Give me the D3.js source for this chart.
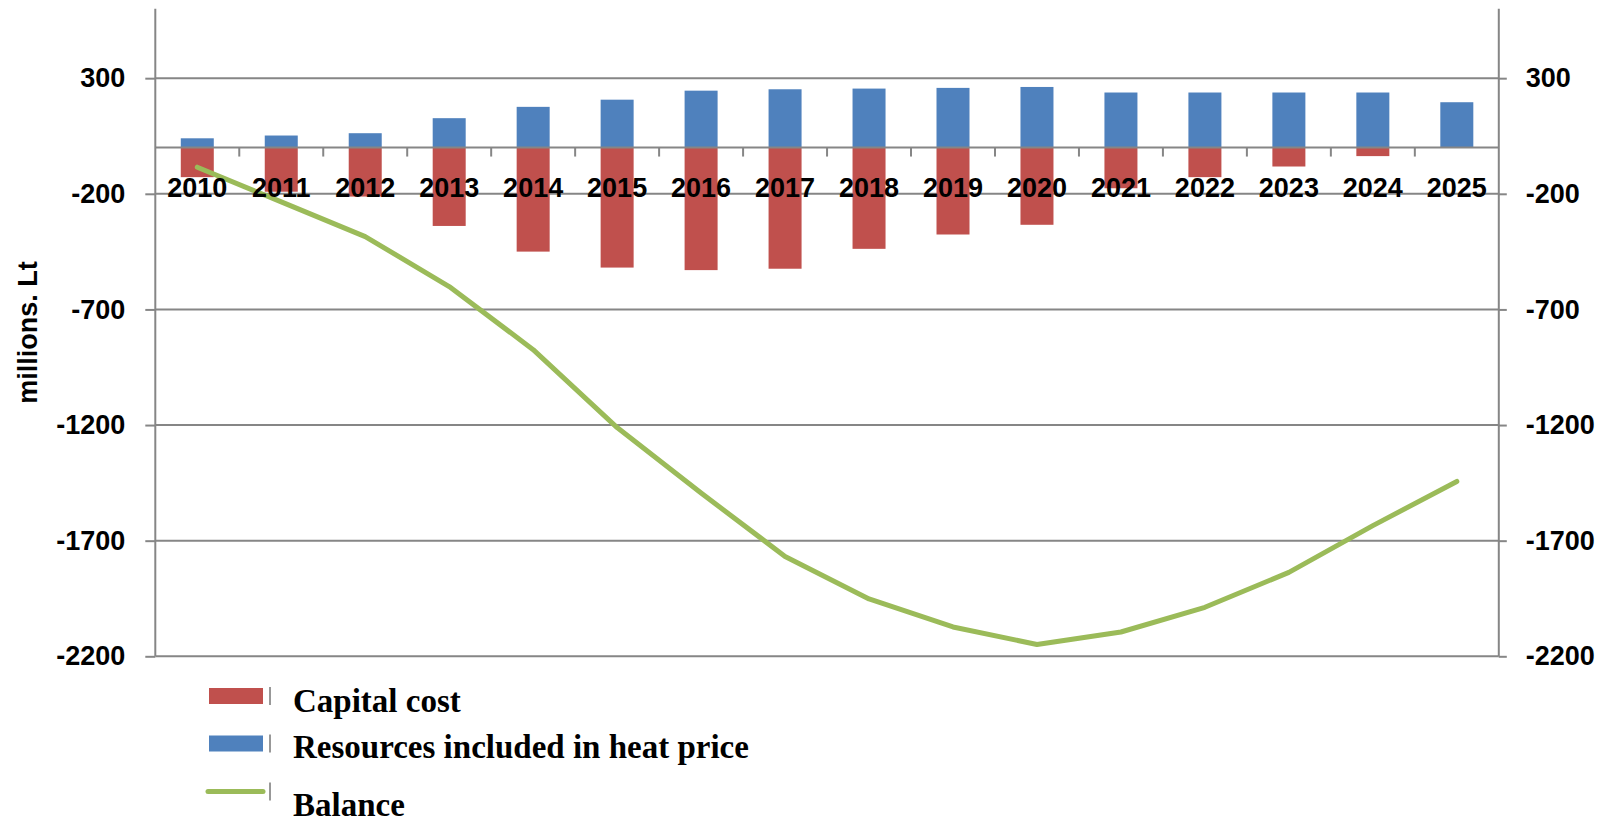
<!DOCTYPE html>
<html>
<head>
<meta charset="utf-8">
<script src="https://cdn.jsdelivr.net/npm/d3@7"></script>
<style>
  html, body { margin: 0; padding: 0; background: #ffffff; }
  svg { display: block; }
</style>
</head>
<body>
<svg id="chart" width="1602" height="824"></svg>
<script>
// ---- data ----
const years = ["2010","2011","2012","2013","2014","2015","2016","2017","2018","2019","2020","2021","2022","2023","2024","2025"];
const resources = [40, 52, 62, 127, 176, 207, 246, 252, 255, 258, 262, 238, 238, 238, 238, 196];
const capital = [-128, -191, -212, -339, -450, -519, -530, -524, -438, -376, -334, -176, -128, -82, -37, 0];
const balance = [-85, -235, -385, -601, -874, -1211, -1494, -1768, -1952, -2073, -2149, -2095, -1988, -1837, -1635, -1444];
const yTicks = [300, -200, -700, -1200, -1700, -2200];
const seriesNames = ["Capital cost", "Resources included in heat price", "Balance"];
const colors = { capital: "#C0504D", resources: "#4F81BD", balance: "#9BBB59" };

// ---- layout ----
const plotLeft = 155.3, plotRight = 1498.8;
const plotTop = 8.8, plotBottom = 656.3;
const axisColor = "#868686";
const sansFont = "'Liberation Sans', Arial, sans-serif";
const serifFont = "'Liberation Serif', 'Times New Roman', serif";

const svg = d3.select("#chart");

const x = d3.scaleBand().domain(years).range([plotLeft, plotRight]).paddingInner(0.607).paddingOuter(0.3035);
const y = d3.scaleLinear().domain([-2200, 600]).range([plotBottom, plotTop]);

// gridlines
svg.append("g").selectAll("line").data(yTicks).join("line")
  .attr("x1", plotLeft).attr("x2", plotRight)
  .attr("y1", d => y(d)).attr("y2", d => y(d))
  .attr("stroke", axisColor).attr("stroke-width", 2);

// left axis
const fmt = d => String(d);
const leftAxis = d3.axisLeft(y).tickValues(yTicks).tickSize(10).tickPadding(20).tickFormat(fmt);
const gl = svg.append("g").attr("transform", `translate(${plotLeft},0)`).call(leftAxis);
gl.select(".domain").remove();
gl.append("line").attr("x1", 0).attr("x2", 0).attr("y1", plotTop).attr("y2", plotBottom).attr("stroke", axisColor).attr("stroke-width", 2);

// right axis
const rightAxis = d3.axisRight(y).tickValues(yTicks).tickSize(8).tickPadding(19).tickFormat(fmt);
const gr = svg.append("g").attr("transform", `translate(${plotRight},0)`).call(rightAxis);
gr.select(".domain").remove();
gr.append("line").attr("x1", 0).attr("x2", 0).attr("y1", plotTop).attr("y2", plotBottom).attr("stroke", axisColor).attr("stroke-width", 2);

[gl, gr].forEach(g => {
  g.selectAll(".tick line").attr("stroke", axisColor).attr("stroke-width", 2);
  g.selectAll(".tick text").attr("fill", "#000").attr("font-family", sansFont)
    .attr("font-weight", "bold").attr("font-size", 27);
});

// bars
svg.append("g").selectAll("rect").data(years).join("rect")
  .attr("x", d => x(d)).attr("width", x.bandwidth())
  .attr("y", (d, i) => y(resources[i])).attr("height", (d, i) => y(0) - y(resources[i]))
  .attr("fill", colors.resources);
svg.append("g").selectAll("rect").data(years).join("rect")
  .attr("x", d => x(d)).attr("width", x.bandwidth())
  .attr("y", y(0)).attr("height", (d, i) => y(capital[i]) - y(0))
  .attr("fill", colors.capital);

// category axis at zero
const step = x.step();
const gc = svg.append("g").attr("transform", `translate(0,${y(0)})`);
gc.append("line").attr("x1", plotLeft).attr("x2", plotRight).attr("y1", 0).attr("y2", 0).attr("stroke", axisColor).attr("stroke-width", 2);
gc.selectAll("line.tk").data(d3.range(1, years.length)).join("line").attr("class", "tk")
  .attr("x1", i => plotLeft + i * step).attr("x2", i => plotLeft + i * step)
  .attr("y1", 0).attr("y2", 9).attr("stroke", axisColor).attr("stroke-width", 2);

// balance line
const line = d3.line().x((d, i) => x(years[i]) + x.bandwidth() / 2).y(d => y(d));
svg.append("path").datum(balance).attr("d", line)
  .attr("fill", "none").attr("stroke", colors.balance).attr("stroke-width", 5)
  .attr("stroke-linecap", "round").attr("stroke-linejoin", "round");

// category labels
svg.append("g").selectAll("text").data(years).join("text")
  .attr("x", d => x(d) + x.bandwidth() / 2).attr("y", 196.5)
  .attr("text-anchor", "middle").attr("font-family", sansFont)
  .attr("font-weight", "bold").attr("font-size", 27).attr("fill", "#000")
  .text(d => d);

// y title
svg.append("text").attr("transform", "translate(37,332.5) rotate(-90)")
  .attr("text-anchor", "middle").attr("font-family", sansFont)
  .attr("font-weight", "bold").attr("font-size", 27).attr("fill", "#000")
  .text("millions. Lt");

// legend
const lg = svg.append("g");
const legendRows = [
  { name: seriesNames[0], type: "rect", color: colors.capital, cy: 696, ty: 711.7 },
  { name: seriesNames[1], type: "rect", color: colors.resources, cy: 743.5, ty: 758 },
  { name: seriesNames[2], type: "line", color: colors.balance, cy: 791.5, ty: 816 }
];
legendRows.forEach(r => {
  if (r.type === "rect") {
    lg.append("rect").attr("x", 209).attr("y", r.cy - 8).attr("width", 54).attr("height", 16).attr("fill", r.color);
  } else {
    lg.append("line").attr("x1", 208).attr("x2", 263).attr("y1", r.cy).attr("y2", r.cy)
      .attr("stroke", r.color).attr("stroke-width", 5).attr("stroke-linecap", "round");
  }
  lg.append("line").attr("x1", 270).attr("x2", 270).attr("y1", r.cy - 9).attr("y2", r.cy + 9)
    .attr("stroke", "#333").attr("stroke-width", 1);
  lg.append("text").attr("x", 293).attr("y", r.ty).attr("font-family", serifFont)
    .attr("font-weight", "bold").attr("font-size", 33).attr("fill", "#000").text(r.name);
});
</script>
</body>
</html>
